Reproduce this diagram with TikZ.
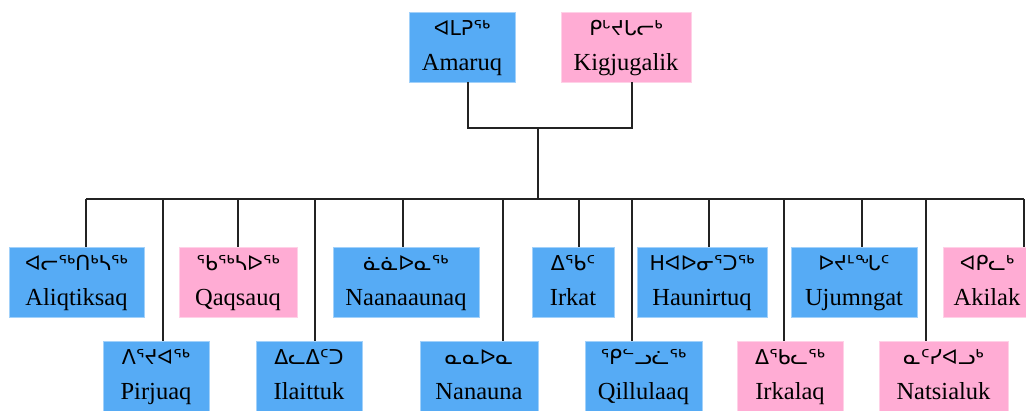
\documentclass[tikz,border=0pt]{standalone}
\usepackage{fontspec}
\setmainfont{Liberation Serif}
\newfontfamily\syl{DejaVu Sans}
\usepackage{tikz}
\definecolor{MaleBlue}{RGB}{86,171,245}
\definecolor{FemalePink}{RGB}{255,172,212}
\definecolor{LineGray}{RGB}{35,35,35}
\newcommand{\ik}[1]{{\syl\fontsize{20.5}{20.5}\selectfont #1}}

\begin{document}
\begin{tikzpicture}[x=1pt, y=-1pt,
  person/.style={rectangle, minimum height=70pt, inner sep=0pt, align=center,
    font=\fontsize{24.5}{35}\selectfont, text height=48pt, text depth=2pt},
  %
  male/.style ={person, fill=MaleBlue, draw=MaleBlue!55!white},
  %
  female/.style ={person, fill=FemalePink, draw=FemalePink!55!white},
  %
  link/.style ={draw=LineGray, line width=1.2pt}
  ]

  \path[use as bounding box, clip] (0,0) rectangle (1026,410);

  \begin{scope}
    % parents
    \node [male, minimum width=106pt] (ama) at (462,47) {\ik{ᐊᒪᕈᖅ}\\Amaruq};
    \node [female, minimum width=130pt] (kig) at (626,47) {\ik{ᑭᒡᔪᒐᓕᒃ}\\Kigjugalik};
    %%%%%%%%%%%%%%%%%%%%%%%%%%%%%%%
    \node [male, minimum width=135pt] (ali) at (76.5,282) {\ik{ᐊᓕᖅᑎᒃᓴᖅ}\\Aliqtiksaq};
    \node [female, minimum width=118pt] (qaq) at (238,282) {\ik{ᖃᖅᓴᐅᖅ}\\Qaqsauq};
    \node [male, minimum width=146pt] (naa) at (406,282) {\ik{ᓈᓈᐅᓇᖅ}\\Naanaaunaq};
    \node [male, minimum width=82pt] (irk) at (573,282) {\ik{ᐃᕐᑲᑦ}\\Irkat};
    \node [male, minimum width=130pt] (hau) at (702,282) {\ik{ᕼᐊᐅᓂᕐᑐᖅ}\\Haunirtuq};
    \node [male, minimum width=126pt] (uju) at (854,282) {\ik{ᐅᔪᒻᖓᑦ}\\Ujumngat};
    \node [female, minimum width=88pt] (aki) at (987,282) {\ik{ᐊᑭᓚᒃ}\\Akilak};
    %%%%%%%%%%%%%%%%%%%%%%%%%%%%%%%
    \node [male, minimum width=106pt] (pir) at (156,376) {\ik{ᐱᕐᔪᐊᖅ}\\Pirjuaq};
    \node [male, minimum width=106pt] (ila) at (309,376) {\ik{ᐃᓚᐃᑦᑐ}\\Ilaittuk};
    \node [male, minimum width=118pt] (nan) at (479,376) {\ik{ᓇᓇᐅᓇ}\\Nanauna};
    \node [male, minimum width=117pt] (qil) at (643.5,376) {\ik{ᕿᓪᓗᓛᖅ}\\Qillulaaq};
    \node [female, minimum width=106pt] (irl) at (790,376) {\ik{ᐃᕐᑲᓚᖅ}\\Irkalaq};
    \node [female, minimum width=129pt] (nat) at (943.5,376) {\ik{ᓇᑦᓯᐊᓗᒃ}\\Natsialuk};
  \end{scope}

  \begin{scope}[link]
    \coordinate (pair) at (538,128);
    \coordinate (sib) at (538,199);
    \draw ([xshift=6pt]ama.south) |- (pair) -| ([xshift=6pt]kig.south);
    \draw (pair) -- (sib);
    \draw ([xshift=9.5pt]ali.north |- sib) -- ([xshift=37pt]aki.north |- sib);
    \draw ([xshift=9.5pt]ali.north) -- ([xshift=9.5pt]ali.north |- sib);
    \draw ([xshift=7pt]pir.north) -- ([xshift=7pt]pir.north |- sib);
    \draw (qaq.north) -- (qaq.north |- sib);
    \draw ([xshift=6pt]ila.north) -- ([xshift=6pt]ila.north |- sib);
    \draw ([xshift=-3pt]naa.north) -- ([xshift=-3pt]naa.north |- sib);
    \draw ([xshift=24pt]nan.north) -- ([xshift=24pt]nan.north |- sib);
    \draw ([xshift=6pt]irk.north) -- ([xshift=6pt]irk.north |- sib);
    \draw ([xshift=-11.5pt]qil.north) -- ([xshift=-11.5pt]qil.north |- sib);
    \draw ([xshift=7pt]hau.north) -- ([xshift=7pt]hau.north |- sib);
    \draw ([xshift=-6pt]irl.north) -- ([xshift=-6pt]irl.north |- sib);
    \draw ([xshift=8pt]uju.north) -- ([xshift=8pt]uju.north |- sib);
    \draw ([xshift=-17.5pt]nat.north) -- ([xshift=-17.5pt]nat.north |- sib);
    \draw ([xshift=37pt]aki.north) -- ([xshift=37pt]aki.north |- sib);
  \end{scope}

\end{tikzpicture}
\end{document}
